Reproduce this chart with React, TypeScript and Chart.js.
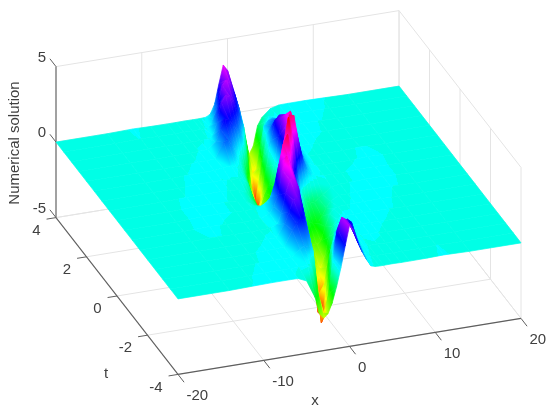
import React, { useEffect, useRef } from "react";
import { Chart, registerables } from "chart.js";

Chart.register(...registerables);

const xValues = [-20,-14,-11,-9,-7,-6,-5,-4,-3.5,-3,-2.5,-2,-1.5,-1,-0.5,0,0.5,1,1.5,2,2.5,3,3.5,4,5,6,7,9,11,14,20];
const tValues = [4,3.5,3,2.5,2,1.5,1,0.5,0,-0.5,-1,-1.5,-2,-2.5,-3,-3.5,-4];

const zAt4 = [0,0,.04,.01,0,0,.01,0,0,.01,.03,.2,.8,2.1,3.3,2.9,1.8,.6,-.5,-1.6,-2.9,-2.4,-1.1,-.6,-.1,.05,.06,.06,.04,0,0];
const zAt35 = [0,0,.03,0,0,0,.01,0,.01,.1,.6,1.5,2.7,3,2.6,1.9,.9,-.3,-2,-3.5,-3.2,-1.4,-.2,.1,.06,.06,.06,.06,.015,0,0];
const zAt30 = [0,0,0,0,0,0,.015,.01,.2,1,2.3,2.7,2.6,2.1,1.5,.6,-1.2,-4,-4.6,-2.4,.3,.6,.7,.5,.06,.06,.06,.03,0,0,0];
const zAt25 = [0,0,0,0,0,.04,.06,.5,1.3,1.9,1.8,1.4,1,.5,-.6,-2.6,-4.9,-4.6,-1.2,.5,1,1.3,1.3,.9,.1,.06,.06,.01,0,0,0];
const zAt20 = [0,0,0,0,.05,.06,.1,1.1,1.2,.8,.3,-.2,-1,-2.4,-3.9,-4.1,-3,-1,.7,2,2.3,2,1.2,.6,.06,.05,.01,0,0,0,0];
const zAt15 = [0,0,0,.04,.06,.06,.15,.2,.1,-.1,-.5,-1.2,-2.6,-3.2,-2.8,-2,-1.4,-.2,1.6,2.9,3,2.2,1.2,.5,.03,0,0,0,.04,0,0];
const zAt10 = [0,0,.01,.06,.06,.05,.015,0,-.1,-.4,-1.2,-2.1,-2.3,-2.2,-1.9,-1.6,-1.2,.2,3,3.9,3,1.4,.7,.3,.015,0,0,.01,.06,.01,0];
const zAt05 = [0,0,.04,.06,.06,.015,0,-.3,-.7,-1.2,-1.6,-1.6,-1.4,-1,-.5,-.2,1.5,4.4,4.3,2.7,1.4,.6,.3,.1,.015,0,.015,.06,.06,0,0];
const zAt00 = [0,0,.06,.06,.02,0,-.1,-.5,-.7,-.9,-.9,-.7,-.1,1.2,3.5,5,3.5,1.2,-.1,-.7,-.9,-.9,-.7,-.5,-.1,0,.02,.06,.06,0,0];
const zAtM05 = [0,0,.06,.06,.015,0,.015,.1,.3,.6,1.4,2.7,4,4.6,3.2,.8,-.5,-1,-1.4,-1.6,-1.6,-1.2,-.7,-.3,0,.015,.06,.06,.04,0,0];
const zAtM10 = [0,.01,.06,.01,0,0,.015,.3,.7,1.4,3,3.9,3.2,1.2,-.9,-1.6,-1.9,-2.2,-2.3,-2.1,-1.2,-.4,-.1,0,.015,.05,.06,.06,.01,0,0];
const zAtM15 = [0,0,.04,0,0,0,.02,.2,.9,2.2,3,3,2.4,.4,-1.2,-2,-2.8,-3.2,-2.6,-1.2,-.5,-.1,.06,.06,.05,.06,.06,.04,0,0,0];
const zAtM20 = [0,0,0,0,.01,.05,.06,.9,1.6,2.4,2.5,2,.7,-1,-3,-4.1,-3.9,-2.4,-1,-.2,.4,.4,.2,.05,.06,.06,.05,0,0,0,0];
const zAtM25 = [0,0,0,.01,.06,.06,.1,1.1,1.5,1.8,1.6,.5,-1.2,-4.6,-4.9,-2.6,-.6,.5,.9,1.2,1.1,.6,.05,.03,.06,.04,0,0,0,0,0];
const zAtM30 = [0,0,0,.03,.06,.06,.06,.5,.7,.6,.3,-2.4,-4.6,-4,-1.2,.6,1.2,1.8,2,1.75,.8,.2,.05,.02,.015,0,0,0,0,0,0];
const zAtM35 = [0,0,.015,.06,.06,.06,.06,.1,-.2,-1.4,-3.2,-3.5,-2,.3,2.2,2.9,2.7,2.3,1.6,.9,.3,.05,.02,0,.01,0,0,0,.03,0,0];
const zAtM40 = [0,0,.04,.06,.06,.05,-.2,-1.4,-2.5,-2.85,-2.6,-1.9,-.9,.3,1.7,3,2.6,1.75,1.1,.55,.1,.02,0,0,.01,0,0,.01,.04,0,0];
const zRows = [zAt4,zAt35,zAt30,zAt25,zAt20,zAt15,zAt10,zAt05,zAt00,zAtM05,zAtM10,zAtM15,zAtM20,zAtM25,zAtM30,zAtM35,zAtM40];

const xTicks = [-20,-10,0,10,20];
const tTicks = [-4,-2,0,2,4];
const zTicks = [-5,0,5];
const axisTitles = { x: "x", t: "t", z: "Numerical solution" };

const project = (x: number, t: number, z: number) => ({
  x: 288.5 + 8.575 * x - 15.25 * t,
  y: 192.5 - 1.4 * x - 19.6 * t - 15.1 * z,
});

// hsv colormap with a single visible step between the teal floor and cyan.
const STEP_Z = 0.03;
const colorOf = (z: number) => {
  let hue;
  if (z < -0.15) hue = (174 * (Math.max(z, -5) + 5)) / 4.85;
  else if (z < STEP_Z) hue = 174;
  else if (z < 0.18) hue = 180;
  else hue = 180 + ((z - 0.18) * 180) / 4.88;
  return `hsl(${hue},100%,50%)`;
};

type V = { x: number; y: number; z: number };

function makeFill(verts: V[]) {
  return (ctx: any) => {
    const chart = ctx.chart;
    const sx = chart.scales.x;
    const sy = chart.scales.y;
    const zs = verts.map((v) => v.z);
    const zmin = Math.min(...zs);
    const zmax = Math.max(...zs);
    const flat = colorOf((zmin + zmax) / 2);
    if (zmax < STEP_Z && zmin > -0.15) return flat;
    if (zmin >= STEP_Z && zmax < 0.18) return flat;
    const pts = verts.map((v) => ({ X: sx.getPixelForValue(v.x), Y: sy.getPixelForValue(v.y), z: v.z }));
    if (!pts.every((p) => Number.isFinite(p.X) && Number.isFinite(p.Y))) return flat;
    const mx = pts.reduce((s, p) => s + p.X, 0) / 4;
    const my = pts.reduce((s, p) => s + p.Y, 0) / 4;
    const mz = pts.reduce((s, p) => s + p.z, 0) / 4;
    let sxx = 0, sxy = 0, syy = 0, sxz = 0, syz = 0;
    pts.forEach((p) => {
      const dx = p.X - mx, dy = p.Y - my, dz = p.z - mz;
      sxx += dx * dx; sxy += dx * dy; syy += dy * dy; sxz += dx * dz; syz += dy * dz;
    });
    const det = sxx * syy - sxy * sxy;
    let a = 0, b = 0;
    if (Math.abs(det) > 1e-3) {
      a = (sxz * syy - syz * sxy) / det;
      b = (syz * sxx - sxz * sxy) / det;
    }
    const n = a * a + b * b;
    let g;
    if (n > 1e-9 && n < 4) {
      const k0 = (zmin - mz) / n;
      const k1 = (zmax - mz) / n;
      g = chart.ctx.createLinearGradient(mx + a * k0, my + b * k0, mx + a * k1, my + b * k1);
    } else {
      const lo = pts[zs.indexOf(zmin)];
      const hi = pts[zs.indexOf(zmax)];
      g = chart.ctx.createLinearGradient(lo.X, lo.Y, hi.X, hi.Y);
    }
    const span = zmax - zmin;
    const steps = 14;
    for (let i = 0; i <= steps; i++) {
      const p = i / steps;
      const z = zmin + span * p;
      if (z < STEP_Z - span / steps || z >= STEP_Z + span / steps) g.addColorStop(p, colorOf(z));
    }
    if (zmin < STEP_Z && zmax > STEP_Z) {
      const p = (STEP_Z - zmin) / span;
      g.addColorStop(p, colorOf(STEP_Z - 1e-4));
      g.addColorStop(p, colorOf(STEP_Z + 1e-4));
    }
    return g;
  };
}

const GRID = "#e4e4e4";
const AXIS = "#5f5f5f";

function lineSet(a: number[], b: number[], color: string, width: number) {
  const p = project(a[0], a[1], a[2]);
  const q = project(b[0], b[1], b[2]);
  return {
    data: [p, q],
    showLine: true,
    borderColor: color,
    borderWidth: width,
    pointRadius: 0,
    fill: false,
  };
}

function buildDatasets() {
  const sets: any[] = [];
  for (let r = 0; r < tValues.length - 1; r++) {
    for (let c = xValues.length - 2; c >= 0; c--) {
      const corners: V[] = [
        [c, r], [c + 1, r], [c + 1, r + 1], [c, r + 1],
      ].map(([ci, ri]) => ({ ...project(xValues[ci], tValues[ri], zRows[ri][ci]), z: zRows[ri][ci] }));
      const paint = makeFill(corners);
      sets.push({
        data: [...corners, corners[0]].map((v) => ({ x: v.x, y: v.y })),
        showLine: true,
        fill: "shape",
        backgroundColor: paint,
        borderColor: paint,
        borderWidth: 0.7,
        pointRadius: 0,
        tension: 0,
      });
    }
  }
  const lines: any[] = [];
  const [xa, xb] = [xTicks[0], xTicks[xTicks.length - 1]];
  const [ta, tb] = [tTicks[0], tTicks[tTicks.length - 1]];
  const [za, zb] = [zTicks[0], zTicks[zTicks.length - 1]];
  xTicks.forEach((x) => {
    lines.push(lineSet([x, ta, za], [x, tb, za], GRID, 1));
    lines.push(lineSet([x, tb, za], [x, tb, zb], GRID, 1));
  });
  tTicks.forEach((t) => {
    lines.push(lineSet([xa, t, za], [xb, t, za], GRID, 1));
    lines.push(lineSet([xb, t, za], [xb, t, zb], GRID, 1));
  });
  zTicks.forEach((z) => {
    lines.push(lineSet([xa, tb, z], [xb, tb, z], GRID, 1));
    lines.push(lineSet([xb, tb, z], [xb, ta, z], GRID, 1));
  });
  lines.push(lineSet([xa, tb, za], [xa, tb, zb], AXIS, 1.1));
  lines.push(lineSet([xa, ta, za], [xa, tb, za], AXIS, 1.1));
  lines.push(lineSet([xa, ta, za], [xb, ta, za], AXIS, 1.1));
  xTicks.forEach((x) => lines.push(lineSet([x, ta, za], [x, ta - 0.4, za], AXIS, 1)));
  tTicks.forEach((t) => lines.push(lineSet([xa, t, za], [xa - 1.1, t, za], AXIS, 1)));
  zTicks.forEach((z) => lines.push(lineSet([xa, tb, z], [xa, tb + 0.4, z], AXIS, 1)));
  // Chart.js paints the highest order first, so later entries end up on top.
  const ordered = [...lines, ...sets];
  ordered.forEach((d, i) => (d.order = ordered.length - i));
  return ordered;
}

const labelsPlugin = {
  id: "axisText",
  afterDraw(chart: any) {
    const { ctx, scales } = chart;
    const at = (x: number, t: number, z: number) => {
      const p = project(x, t, z);
      return [scales.x.getPixelForValue(p.x), scales.y.getPixelForValue(p.y)];
    };
    const xa = xTicks[0];
    const ta = tTicks[0];
    const tb = tTicks[tTicks.length - 1];
    const za = zTicks[0];
    ctx.save();
    ctx.fillStyle = "#404040";
    ctx.font = '15px "Liberation Sans", Arial, sans-serif';
    ctx.textBaseline = "middle";
    ctx.textAlign = "left";
    xTicks.forEach((x) => {
      const [X, Y] = at(x, ta, za);
      ctx.fillText(String(x), X + 8.5, Y + 21);
    });
    ctx.textAlign = "right";
    tTicks.forEach((t) => {
      const [X, Y] = at(xa, t, za);
      ctx.fillText(String(t), X - 15.5, Y + 13);
    });
    zTicks.forEach((z) => {
      const [X, Y] = at(xa, tb, z);
      ctx.fillText(String(z), X - 10, Y - 9);
    });
    ctx.textAlign = "center";
    ctx.fillText(axisTitles.x, 315, 401);
    ctx.fillText(axisTitles.t, 106, 374);
    ctx.translate(15, 143);
    ctx.rotate(-Math.PI / 2);
    ctx.fillText(axisTitles.z, 0, 0);
    ctx.restore();
  },
};

export default function App() {
  const ref = useRef<HTMLCanvasElement | null>(null);
  useEffect(() => {
    document.body.style.margin = "0";
    const chart = new Chart(ref.current as HTMLCanvasElement, {
      type: "scatter",
      data: { datasets: buildDatasets() },
      options: {
        animation: false,
        responsive: false,
        events: [],
        layout: { padding: 0 },
        plugins: { legend: { display: false }, tooltip: { enabled: false } },
        scales: {
          x: { type: "linear", min: 0, max: 550, display: false },
          y: { type: "linear", min: 0, max: 411, reverse: true, display: false },
        },
      },
      plugins: [labelsPlugin],
    } as any);
    return () => chart.destroy();
  }, []);
  return (
    <div style={{ position: "absolute", left: 0, top: 0, width: 550, height: 411, background: "#fff" }}>
      <canvas ref={ref} width={550} height={411} style={{ display: "block", filter: "blur(0.5px)" }} />
    </div>
  );
}
